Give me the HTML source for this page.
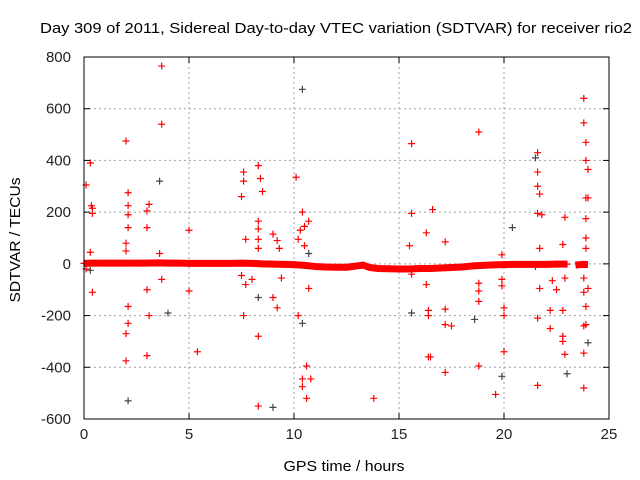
<!DOCTYPE html>
<html><head><meta charset="utf-8"><style>
body{margin:0;background:#fff}
svg{display:block;font-family:"Liberation Sans",sans-serif}
</style></head><body>
<svg id="chart" width="640" height="480">
<text x="336" y="33" text-anchor="middle" font-size="15" textLength="592" lengthAdjust="spacingAndGlyphs">Day 309 of 2011, Sidereal Day-to-day VTEC variation (SDTVAR) for receiver rio2</text>
<text x="344" y="471" text-anchor="middle" font-size="15" textLength="121" lengthAdjust="spacingAndGlyphs">GPS time / hours</text>
<text transform="translate(20,240) rotate(-90)" text-anchor="middle" font-size="15" textLength="125" lengthAdjust="spacingAndGlyphs">SDTVAR / TECUs</text>
<g id="grid"></g>
<g id="ticks"></g>
<g id="marks"></g>
<rect x="84" y="57" width="525" height="362" fill="none" stroke="#000" stroke-width="1"/>
</svg>
<script>
const xTicks=[0,5,10,15,20,25];
const yTicks=[-600,-400,-200,0,200,400,600,800];
const bandHours=[0,0.5,1,1.5,2,2.5,3,3.5,4,4.5,5,5.5,6,6.5,7,7.5,8,8.5,9,9.5,10,10.5,11,11.5,12,12.5,13,13.3,13.6,14,14.5,15,15.5,16,16.5,17,17.5,18,18.5,19,19.5,20,20.5,21,21.5,22,22.5,23];
const bandValues=[2,3,3,3,3,3,3,4,3,3,2,2,2,2,2,3,2,0,-1,-2,-3,-6,-10,-12,-13,-13,-8,-5,-14,-18,-19,-20,-20,-18,-18,-16,-14,-12,-8,-6,-4,-3,-2,-2,-2,-2,-1,-1];
const band2Hours=[23.4,23.6,23.8,24.0];
const band2Values=[-5,-3,-2,-3];
const redX=[0.1,0.3,0.35,0.4,0.4,0.3,0.4,0.1,2.0,2.1,2.1,2.1,2.1,2.0,2.0,2.1,2.0,2.0,2.1,3.1,3.0,3.0,3.1,3.0,3.0,3.7,3.7,3.6,3.7,5.0,5.4,5.0,7.6,7.6,7.5,7.7,7.6,7.5,7.7,8.3,8.4,8.5,8.3,8.3,8.3,8.3,8.3,8.3,8.0,9.0,9.2,9.3,9.2,9.0,9.4,10.1,10.4,10.3,10.5,10.7,10.2,10.5,10.2,10.4,10.4,10.6,10.6,10.8,10.7,13.8,15.6,15.6,15.5,15.6,16.3,16.6,16.3,16.4,16.4,16.4,16.5,17.2,17.2,17.2,17.5,17.2,18.8,18.8,18.8,18.8,18.8,19.6,19.9,19.9,19.9,20.0,20.0,20.0,21.6,21.6,21.6,21.7,21.6,21.8,21.7,21.5,21.6,21.6,21.7,22.2,22.2,22.3,22.5,22.9,22.8,22.9,22.8,22.8,22.8,22.9,23.8,23.8,23.9,23.9,24.0,23.9,24.0,23.9,23.9,23.9,23.8,23.8,23.8,23.9,23.8,23.8,23.9,24.0];
const redY=[305,390,225,215,195,45,-110,-20,475,275,225,190,140,80,50,-230,-270,-375,-165,230,205,140,-200,-355,-100,765,540,40,-60,130,-340,-105,355,320,260,95,-200,-45,-80,380,330,280,165,135,95,60,-280,-550,-60,115,90,60,-170,-130,-55,335,200,130,145,165,95,70,-200,-445,-475,-395,-520,-445,-95,-520,465,195,70,-40,120,210,-80,-180,-200,-360,-360,85,-175,-235,-240,-420,510,-75,-105,-145,-395,-505,35,-60,-85,-170,-200,-340,430,355,300,270,195,190,60,-10,-210,-470,-95,-180,-250,-65,-100,180,75,-55,-180,-280,-300,-350,640,545,470,400,365,255,255,175,100,60,-55,-110,-240,-235,-480,-345,-165,-95];
const darkX=[0.3,3.6,2.1,4.0,8.3,9.0,10.4,10.4,10.7,15.6,20.4,21.5,23.0,24.0,18.6,19.9];
const darkY=[-25,320,-530,-190,-130,-555,-230,675,40,-190,140,410,-425,-305,-215,-435];
const NS="http://www.w3.org/2000/svg";
const X0=84,X1=609,Y0=419,Y1=57;
function sx(h){return X0+(h-0)/(25-0)*(X1-X0);}
function sy(v){return Y0-(v+600)/1400*(Y0-Y1);}
function mk(tag,at,parent){const e=document.createElementNS(NS,tag);for(const k in at)e.setAttribute(k,at[k]);parent.appendChild(e);return e;}
const grid=document.getElementById('grid'),ticks=document.getElementById('ticks'),marks=document.getElementById('marks');
xTicks.forEach(t=>{const x=sx(t);
 if(t>0&&t<25){const l=mk('line',{x1:x,x2:x,y1:Y1,y2:Y0,stroke:'#a0a0a0','stroke-dasharray':'2,3'},grid);
 
 }
 mk('line',{x1:x,x2:x,y1:Y0,y2:Y0-6,stroke:'#000'},ticks);mk('line',{x1:x,x2:x,y1:Y1,y2:Y1+6,stroke:'#000'},ticks);
 const tx=mk('text',{x:x,y:Y0+20,'text-anchor':'middle','font-size':15,fill:'#222'},ticks);tx.textContent=t;
 
 });
yTicks.forEach(t=>{const y=sy(t);
 if(t>-600&&t<800){const l=mk('line',{x1:X0,x2:X1,y1:y,y2:y,stroke:'#a0a0a0','stroke-dasharray':'2,3'},grid);
 
 }
 mk('line',{x1:X0,x2:X0+6,y1:y,y2:y,stroke:'#000'},ticks);mk('line',{x1:X1,x2:X1-6,y1:y,y2:y,stroke:'#000'},ticks);
 const tx=mk('text',{x:X0-13,y:y+5,'text-anchor':'end','font-size':15,fill:'#222'},ticks);tx.textContent=t;
 
 });
function plus(h,v,c,name){const x=sx(h),y=sy(v);
 const p=mk('path',{d:`M${x-3.5},${y}H${x+3.5}M${x},${y-3.5}V${y+3.5}`,stroke:c,'stroke-width':1.2,fill:'none'},marks);
 
 }
function bandPath(hs,vs){const d=hs.map((h,i)=>(i?'L':'M')+sx(h)+','+sy(vs[i])).join('');
 const p=mk('path',{d:d,stroke:'#f00','stroke-width':7,fill:'none','stroke-linejoin':'round'},marks);
 
 }
darkX.forEach((h,i)=>plus(h,darkY[i],'#444','dark-point'));
bandPath(bandHours,bandValues);bandPath(band2Hours,band2Values);
bandHours.forEach((h,i)=>plus(h,bandValues[i],'#f00','band-point'));
redX.forEach((h,i)=>plus(h,redY[i],'#f00','red-point'));
</script>
</body></html>
